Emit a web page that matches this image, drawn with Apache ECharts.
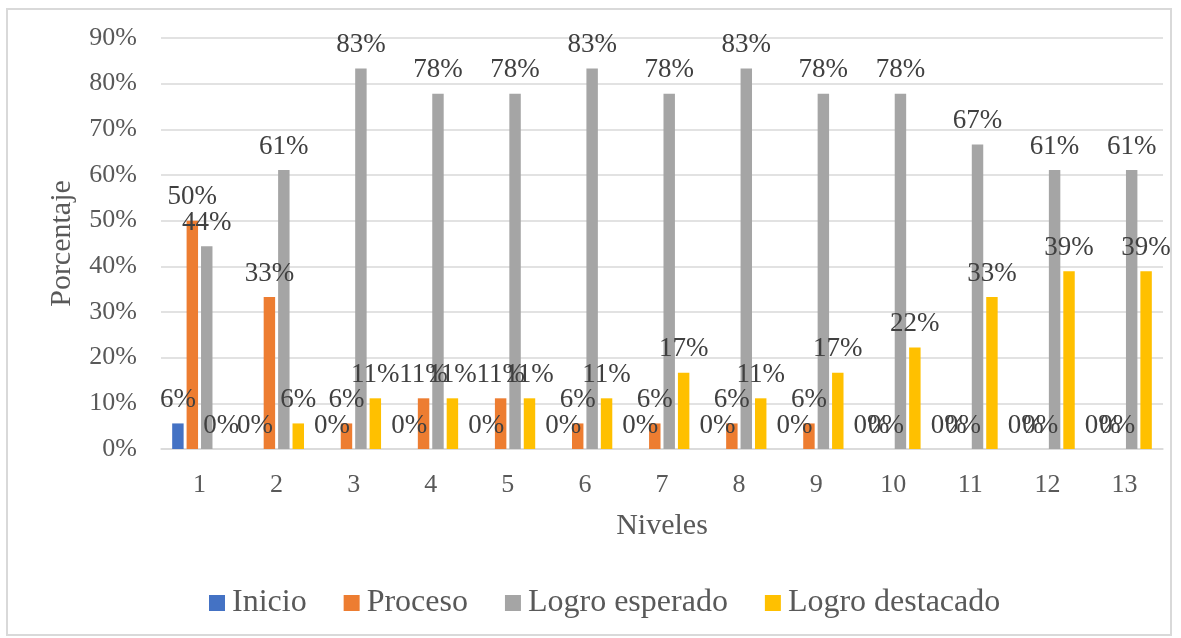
<!DOCTYPE html>
<html>
<head>
<meta charset="utf-8">
<script src="https://cdn.jsdelivr.net/npm/echarts@6/dist/echarts.min.js"></script>
<style>
  html, body { margin: 0; padding: 0; background: #fff; }
  #frame {
    position: absolute; left: 6px; top: 8px; width: 1166px; height: 628px;
    border: 2px solid #d9d9d9; box-sizing: border-box;
  }
  #chart { position: absolute; left: 0; top: 0; width: 1181px; height: 638px; }
</style>
</head>
<body>
<div id="frame"></div>
<div id="chart"></div>
<script>
// niveles 1..13
var niveles = ['1', '2', '3', '4', '5', '6', '7', '8', '9', '10', '11', '12', '13']
var yTicks = [0, 10, 20, 30, 40, 50, 60, 70, 80, 90]

// porcentajes por nivel
var inicio = [5.6, 0, 0, 0, 0, 0, 0, 0, 0, 0, 0, 0, 0]
var proceso = [50, 33.3, 5.6, 11.1, 11.1, 5.6, 5.6, 5.6, 5.6, 0, 0, 0, 0]
var logroEsperado = [44.4, 61.1, 83.3, 77.8, 77.8, 83.3, 77.8, 83.3, 77.8, 77.8, 66.7, 61.1, 61.1]
var logroDestacado = [0, 5.6, 11.1, 11.1, 11.1, 11.1, 16.7, 11.1, 16.7, 22.2, 33.3, 38.9, 38.9]

var fuente = '"Liberation Serif", "Times New Roman", serif'

function serie (name, data, color) {
  return {
    name: name,
    type: 'bar',
    data: data,
    barGap: '26%',
    barCategoryGap: '29%',
    itemStyle: { color: color },
    label: {
      show: true,
      position: 'top',
      distance: 10,
      color: '#404040',
      fontFamily: fuente,
      fontSize: 27,
      formatter: function (p) { return Math.round(p.value) + '%' }
    }
  }
}

var chart = echarts.init(document.getElementById('chart'))
chart.setOption({
  animation: false,
  textStyle: { fontFamily: fuente },
  grid: { left: 161, right: 18, top: 38, bottom: 189 },
  legend: {
    bottom: 14,
    left: 204,
    itemWidth: 16,
    itemHeight: 16,
    itemGap: 37,
    icon: 'rect',
    textStyle: { fontFamily: fuente, fontSize: 32, color: '#595959', padding: [0, 0, 0, 2] },
    data: ['Inicio', 'Proceso', 'Logro esperado', 'Logro destacado']
  },
  xAxis: {
    type: 'category',
    data: niveles,
    name: 'Niveles',
    nameLocation: 'middle',
    nameGap: 62,
    nameTextStyle: { fontFamily: fuente, fontSize: 30, color: '#595959' },
    axisTick: { show: false },
    axisLine: { lineStyle: { color: '#d9d9d9', width: 1.5 } },
    axisLabel: { fontFamily: fuente, fontSize: 26, color: '#595959', margin: 23 }
  },
  yAxis: {
    type: 'value',
    min: yTicks[0],
    max: yTicks[yTicks.length - 1],
    interval: 10,
    name: 'Porcentaje',
    nameLocation: 'middle',
    nameGap: 84,
    nameTextStyle: { fontFamily: fuente, fontSize: 30, color: '#595959' },
    axisLine: { show: false },
    axisTick: { show: false },
    splitLine: { lineStyle: { color: '#d9d9d9', width: 1.5 } },
    axisLabel: { fontFamily: fuente, fontSize: 26, color: '#595959', margin: 24, formatter: '{value}%' }
  },
  series: [
    serie('Inicio', inicio, '#4472c4'),
    serie('Proceso', proceso, '#ed7d31'),
    serie('Logro esperado', logroEsperado, '#a5a5a5'),
    serie('Logro destacado', logroDestacado, '#ffc000')
  ]
})
</script>
</body>
</html>
